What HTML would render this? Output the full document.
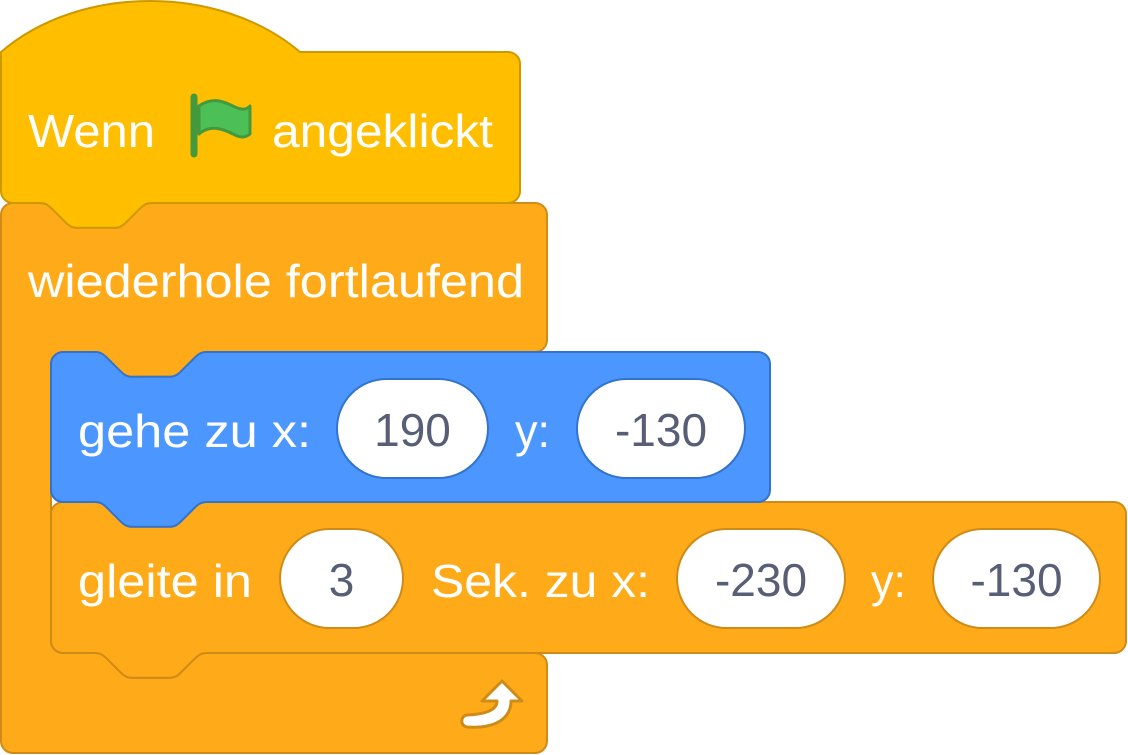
<!DOCTYPE html>
<html><head><meta charset="utf-8"><style>
html,body{margin:0;padding:0;background:#fff;}
svg{display:block;}
text{font-family:"Liberation Sans",Helvetica,Arial,sans-serif;font-size:46px;}
.w{fill:#fff;}
.g{fill:#575E75;}
</style></head><body>
<svg id="s" width="1128" height="755" viewBox="0 0 1128 755">
<g id="blocks"></g>
<g id="labels">
<text class="w" x="28" y="147" textLength="127" lengthAdjust="spacingAndGlyphs">Wenn</text>
<g>
<path d="M199,106 c14,-10 26,-4 36,1 c7,3 11,3 15,-1 v28 c-5,4 -10,4 -17,0 c-10,-5 -23,-10 -34,0 z" fill="#4CBF56" stroke="#45993D" stroke-width="3" stroke-linejoin="round"/>
<line x1="194" y1="97" x2="194" y2="154" stroke="#45993D" stroke-width="7" stroke-linecap="round"/>
</g>
<text class="w" x="272" y="147" textLength="221" lengthAdjust="spacingAndGlyphs">angeklickt</text>
<text class="w" x="28" y="297" textLength="496" lengthAdjust="spacingAndGlyphs">wiederhole fortlaufend</text>
<text class="w" x="78" y="447" textLength="233" lengthAdjust="spacingAndGlyphs">gehe zu x:</text>
<rect x="337" y="379" width="151" height="99" rx="49.5" fill="#fff" stroke="#3373CC" stroke-width="2"/>
<text class="g" x="412.5" y="446" text-anchor="middle">190</text>
<text class="w" x="515" y="447" textLength="35" lengthAdjust="spacingAndGlyphs">y:</text>
<rect x="577" y="379" width="168" height="99" rx="49.5" fill="#fff" stroke="#3373CC" stroke-width="2"/>
<text class="g" x="661" y="446" text-anchor="middle">-130</text>
<text class="w" x="78" y="597" textLength="174" lengthAdjust="spacingAndGlyphs">gleite in</text>
<rect x="280" y="529" width="123" height="99" rx="49.5" fill="#fff" stroke="#CF8B17" stroke-width="2"/>
<text class="g" x="341.5" y="596" text-anchor="middle">3</text>
<text class="w" x="431" y="597" textLength="219" lengthAdjust="spacingAndGlyphs">Sek. zu x:</text>
<rect x="677" y="529" width="168" height="99" rx="49.5" fill="#fff" stroke="#CF8B17" stroke-width="2"/>
<text class="g" x="761" y="596" text-anchor="middle">-230</text>
<text class="w" x="871" y="597" textLength="35" lengthAdjust="spacingAndGlyphs">y:</text>
<rect x="933" y="529" width="167" height="99" rx="49.5" fill="#fff" stroke="#CF8B17" stroke-width="2"/>
<text class="g" x="1016.5" y="596" text-anchor="middle">-130</text>
<path d="M502,681 L522,701 L511,701 C511,718 496,729 467,727 C460,726 460,716 467,715 C490,714 497,708 497,701 L482,701 Z" fill="#fff" stroke="#CF8B17" stroke-width="3" stroke-linejoin="round"/>
</g>
</svg>
<script>
var N="c 6.2,0 9.3,3.1 12.4,6.2 l 12.4,12.4 c 3.1,3.1 6.2,6.2 12.4,6.2 h 37.2 c 6.2,0 9.3,-3.1 12.4,-6.2 l 12.4,-12.4 c 3.1,-3.1 6.2,-6.2 12.4,-6.2 ";
var B="c -6.2,0 -9.3,3.1 -12.4,6.2 l -12.4,12.4 c -3.1,3.1 -6.2,6.2 -12.4,6.2 h -37.2 c -6.2,0 -9.3,-3.1 -12.4,-6.2 l -12.4,-12.4 c -3.1,-3.1 -6.2,-6.2 -12.4,-6.2 ";
var g=document.getElementById('blocks');
function add(d,fill,stroke,name){
var p=document.createElementNS('http://www.w3.org/2000/svg','path');
p.setAttribute('d',d);p.setAttribute('fill',fill);p.setAttribute('stroke',stroke);p.setAttribute('stroke-width','2');


g.appendChild(p);}
add("M1,215 a12,12 0 0 1 12,-12 H40 "+N+"H535 a12,12 0 0 1 12,12 V340 a12,12 0 0 1 -12,12 H206.6 "+B+"H63 a12,12 0 0 0 -12,12 V641 a12,12 0 0 0 12,12 H95 "+N+"H535 a12,12 0 0 1 12,12 V741 a12,12 0 0 1 -12,12 H13 a12,12 0 0 1 -12,-12 Z","#FFAB19","#CF8B17","forever-block");
add("M51,514 a12,12 0 0 1 12,-12 H95 "+N+"H1114 a12,12 0 0 1 12,12 V641 a12,12 0 0 1 -12,12 H206.6 "+B+"H63 a12,12 0 0 1 -12,-12 Z","#FFAB19","#CF8B17","glide-block");
add("M51,364 a12,12 0 0 1 12,-12 H95 "+N+"H758 a12,12 0 0 1 12,12 V490 a12,12 0 0 1 -12,12 H206.6 "+B+"H63 a12,12 0 0 1 -12,-12 Z","#4C97FF","#3373CC","goto-block");
add("M1,52 C80,-16 220,-16 300,52 H508 a12,12 0 0 1 12,12 V191 a12,12 0 0 1 -12,12 H151.6 "+B+"H13 a12,12 0 0 1 -12,-12 Z","#FFBF00","#CC9900","when-flag-clicked-block");
</script>
</body></html>
